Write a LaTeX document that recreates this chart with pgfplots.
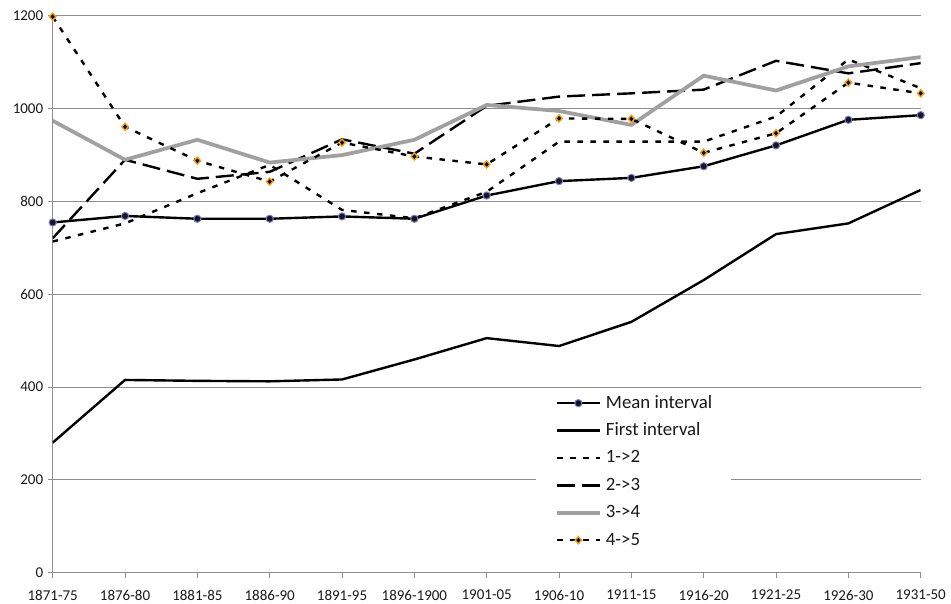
\documentclass[border=0pt]{standalone}
\usepackage{fontspec}
\setmainfont{Carlito}
\usepackage{pgfplots}
\pgfplotsset{compat=1.18}

\definecolor{gridgray}{HTML}{8E8E8E}
\definecolor{axgray}{HTML}{8E8E8E}
\definecolor{line34}{HTML}{A0A0A0}
\definecolor{mkorange}{HTML}{F5A10F}
\definecolor{mkedge}{HTML}{7A7AB8}
\definecolor{mkfill}{HTML}{15152A}

\pgfdeclareplotmark{meanmark}{%
  \pgfsetdash{}{0pt}%
  \pgfpathcircle{\pgfpointorigin}{3.6pt}%
  \pgfsetfillcolor{mkfill}\pgfsetstrokecolor{mkedge}\pgfsetlinewidth{1pt}%
  \pgfusepathqfillstroke}
\pgfdeclareplotmark{diamark}{%
  \pgfsetdash{}{0pt}%
  \pgfpathmoveto{\pgfqpoint{0pt}{4.6pt}}%
  \pgfpathlineto{\pgfqpoint{4.2pt}{0pt}}%
  \pgfpathlineto{\pgfqpoint{0pt}{-4.6pt}}%
  \pgfpathlineto{\pgfqpoint{-4.2pt}{0pt}}%
  \pgfpathclose
  \pgfsetfillcolor{mkorange}\pgfusepathqfill
  \pgfpathmoveto{\pgfqpoint{0pt}{2.3pt}}%
  \pgfpathlineto{\pgfqpoint{2.1pt}{0pt}}%
  \pgfpathlineto{\pgfqpoint{0pt}{-2.3pt}}%
  \pgfpathlineto{\pgfqpoint{-2.1pt}{0pt}}%
  \pgfpathclose
  \pgfsetfillcolor{black}\pgfusepathqfill}

\begin{document}
\begin{tikzpicture}
\path[use as bounding box] (0,0) rectangle (951pt,603pt);
\begin{axis}[
  at={(52.7pt,30.3pt)}, anchor=south west,
  scale only axis, width=868pt, height=557.4pt,
  xmin=0, xmax=12, ymin=0, ymax=1200,
  xtick={0,...,12},
  xticklabels={1871-75,1876-80,1881-85,1886-90,1891-95,1896-1900,1901-05,1906-10,1911-15,1916-20,1921-25,1926-30,1931-50},
  ytick={0,200,...,1200},
  axis x line*=bottom, axis y line*=left,
  axis line style={axgray, line width=0.8pt, -},
  ymajorgrids, grid style={gridgray, line width=0.8pt},
  tick align=outside, major tick length=5pt,
  tick style={axgray, line width=0.8pt},
  tick label style={font=\fontsize{15}{17}\selectfont, text=black!90},
  xticklabel style={yshift=-9pt},
  yticklabel style={xshift=-1pt},
  /pgf/number format/assume math mode=true,
  /pgf/number format/1000 sep={},
  legend cell align=left,
  legend style={at={(0.5568,0.3278)}, anchor=north west, draw=none, fill=white,
    font=\fontsize{18.8}{22}\selectfont, text=black!90,
    inner xsep=19pt, inner ysep=4pt, row sep=9.4pt, column sep=4.3pt,
    nodes={inner sep=0pt, text height=14pt, text depth=4pt}},
  legend image code/.code={\draw[mark repeat=2, mark phase=2, #1] plot coordinates {(0pt,0pt) (21.3pt,0pt) (42.7pt,0pt)};},
  every axis plot/.append style={line join=round},
]
\addplot[black, line width=2.4pt, mark=meanmark] coordinates {
(0,754) (1,768) (2,762) (3,762) (4,767) (5,762) (6,812) (7,843) (8,850) (9,875) (10,920) (11,975) (12,985)};
\addlegendentry{Mean interval}
\addplot[black, line width=2.4pt] coordinates {
(0,280) (1,415) (2,413) (3,412) (4,416) (5,459) (6,505) (7,488) (8,540) (9,630) (10,729) (11,752) (12,824)};
\addlegendentry{First interval}
\addplot[black, line width=2.4pt, dash pattern=on 5.5pt off 7.5pt] coordinates {
(0,713) (1,752) (2,817) (3,878) (4,781) (5,763) (6,820) (7,928) (8,928) (9,928) (10,982) (11,1105) (12,1043)};
\addlegendentry{1->2}
\addplot[black, line width=2.4pt, dash pattern=on 18pt off 7pt] coordinates {
(0,720) (1,889) (2,848) (3,863) (4,933) (5,902) (6,1005) (7,1025) (8,1032) (9,1040) (10,1102) (11,1075) (12,1097)};
\addlegendentry{2->3}
\addplot[line34, line width=3.75pt] coordinates {
(0,973) (1,889) (2,932) (3,883) (4,899) (5,932) (6,1007) (7,994) (8,964) (9,1070) (10,1038) (11,1090) (12,1110)};
\addlegendentry{3->4}
\addplot[black, line width=2.4pt, dash pattern=on 5.5pt off 7.5pt, mark=diamark] coordinates {
(0,1197) (1,960) (2,887) (3,842) (4,926) (5,896) (6,879) (7,978) (8,977) (9,904) (10,946) (11,1055) (12,1032)};
\addlegendentry{4->5}
\end{axis}
\end{tikzpicture}
\end{document}
